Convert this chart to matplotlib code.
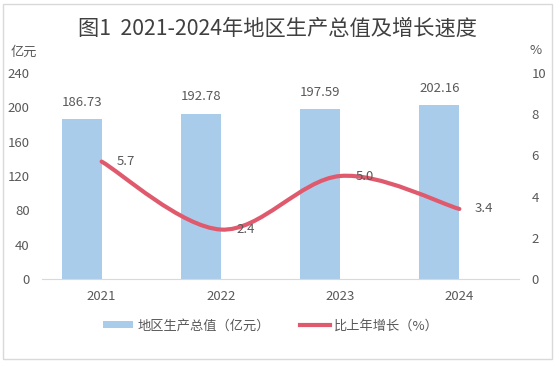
import numpy as np
import matplotlib
matplotlib.use("Agg")
import matplotlib.pyplot as plt
from matplotlib.path import Path
from matplotlib.patches import PathPatch, Rectangle
from matplotlib.lines import Line2D

plt.rcParams["font.family"] = ["Noto Sans CJK SC", "DejaVu Sans"]

years = ["2021", "2022", "2023", "2024"]
gdp = [186.73, 192.78, 197.59, 202.16]
growth = [5.7, 2.4, 5.0, 3.4]

TITLE = "图1  2021-2024年地区生产总值及增长速度"
BAR_LABEL = "地区生产总值（亿元）"
LINE_LABEL = "比上年增长（%）"

BAR_COLOR = "#AACCEB"
LINE_COLOR = "#E05A6E"
TEXT_COLOR = "#595959"
AXIS_COLOR = "#D9D9D9"
FONT_SIZE = 9.5

W, H = 555, 365


def _smooth_path(xs, ys):
    # Excel-style smoothed line: cubic Bezier through the points
    pts = np.column_stack([xs, ys]).astype(float)
    padded = np.vstack([pts[0], pts, pts[-1]])
    verts = [pts[0]]
    codes = [Path.MOVETO]
    for i in range(len(pts) - 1):
        p0, p1, p2, p3 = padded[i], padded[i + 1], padded[i + 2], padded[i + 3]
        verts += [p1 + (p2 - p0) / 6, p2 - (p3 - p1) / 6, p2]
        codes += [Path.CURVE4] * 3
    return Path(verts, codes)


fig = plt.figure(figsize=(W / 100, H / 100), dpi=100)
fig.patches.append(
    Rectangle((3 / W, 1 - 359 / H), 549 / W, 355 / H, transform=fig.transFigure,
              fill=False, edgecolor=AXIS_COLOR, linewidth=1)
)

ax = fig.add_axes([42 / W, 1 - 279 / H, 477 / W, 206 / H])
x = np.arange(len(years))
bar_w = 0.335
ax.bar(x - bar_w / 2, gdp, width=bar_w, color=BAR_COLOR, zorder=2)
for xi, v in zip(x - bar_w / 2, gdp):
    ax.annotate(f"{v:.2f}", (xi, v), xytext=(0, 12), textcoords="offset points",
                ha="center", va="center", fontsize=FONT_SIZE, color=TEXT_COLOR)

ax.set_xlim(-0.5, len(years) - 0.5)
ax.set_ylim(0, 240)
ax.set_yticks(np.arange(0, 241, 40))
ax.set_xticks(x, years)
ax.tick_params(length=0, labelsize=FONT_SIZE, labelcolor=TEXT_COLOR, pad=9)
ax.tick_params(axis="x", pad=8)
for side in ["top", "left", "right"]:
    ax.spines[side].set_visible(False)
ax.spines["bottom"].set_color(AXIS_COLOR)

ax2 = ax.twinx()
ax2.set_ylim(0, 10)
ax2.set_yticks(np.arange(0, 11, 2))
ax2.tick_params(length=0, labelsize=FONT_SIZE, labelcolor=TEXT_COLOR, pad=9)
for side in ["top", "left", "right", "bottom"]:
    ax2.spines[side].set_visible(False)
ax2.add_patch(PathPatch(_smooth_path(x, growth), fill=False, edgecolor=LINE_COLOR,
                        linewidth=3, capstyle="round", zorder=3))
for xi, v in zip(x, growth):
    ax2.annotate(f"{v:.1f}", (xi, v), xytext=(11, 0), textcoords="offset points",
                 ha="left", va="center", fontsize=FONT_SIZE, color=TEXT_COLOR, zorder=4)

fig.text(278 / W, 1 - 29 / H, TITLE, ha="center", va="center", fontsize=15.3,
         color="#404040")
fig.text(11 / W, 1 - 52 / H, "亿元", ha="left", va="center", fontsize=FONT_SIZE,
         color=TEXT_COLOR)
fig.text(542 / W, 1 - 51 / H, "%", ha="right", va="center", fontsize=FONT_SIZE,
         color=TEXT_COLOR)

handles = [
    Rectangle((0, 0), 1, 1, facecolor=BAR_COLOR, edgecolor="none"),
    Line2D([], [], color=LINE_COLOR, linewidth=3),
]
fig.legend(handles, [BAR_LABEL, LINE_LABEL], loc="center",
           bbox_to_anchor=(271 / W, 1 - 326 / H), ncol=2, frameon=False,
           fontsize=FONT_SIZE, labelcolor=TEXT_COLOR, handlelength=2.3,
           handleheight=0.45, handletextpad=0.3, columnspacing=2.3)

fig.savefig("out.png", dpi=100)
